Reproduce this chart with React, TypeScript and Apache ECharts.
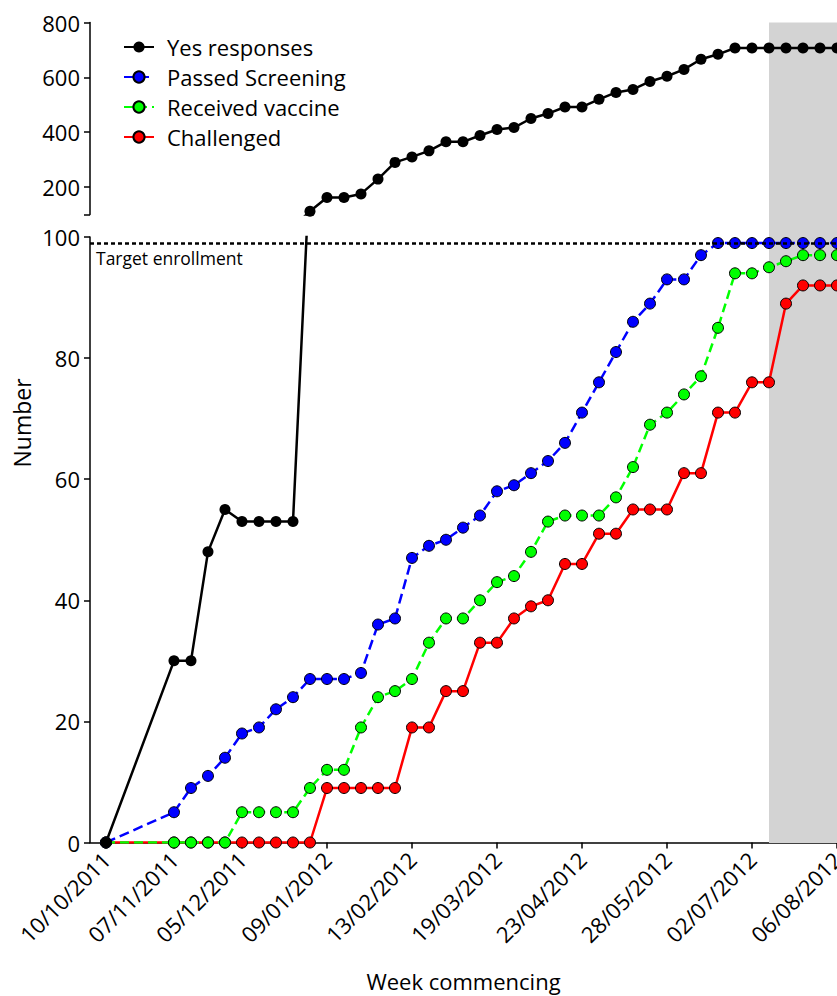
import React, { useEffect, useRef } from 'react';
import * as echarts from 'echarts';

// Week index (weeks after 10/10/2011) for every plotted point
const weekIndex = [0, 4, 5, 6, 7, 8, 9, 10, 11, 12, 13, 14, 15, 16, 17, 18, 19, 20, 21, 22, 23, 24, 25, 26, 27, 28, 29, 30, 31, 32, 33, 34, 35, 36, 37, 38, 39, 40, 41, 42, 43];

const yesResponses = [0, 30, 30, 48, 55, 53, 53, 53, 53, 112, 162, 162, 175, 229, 290, 310, 332, 365, 365, 388, 410, 417, 450, 468, 492, 492, 520, 545, 556, 585, 604, 629, 666, 684, 707, 707, 707, 707, 707, 707, 707];
const passedScreening = [0, 5, 9, 11, 14, 18, 19, 22, 24, 27, 27, 27, 28, 36, 37, 47, 49, 50, 52, 54, 58, 59, 61, 63, 66, 71, 76, 81, 86, 89, 93, 93, 97, 99, 99, 99, 99, 99, 99, 99, 99];
const receivedVaccine = [0, 0, 0, 0, 0, 5, 5, 5, 5, 9, 12, 12, 19, 24, 25, 27, 33, 37, 37, 40, 43, 44, 48, 53, 54, 54, 54, 57, 62, 69, 71, 74, 77, 85, 94, 94, 95, 96, 97, 97, 97];
const challenged = [0, 0, 0, 0, 0, 0, 0, 0, 0, 0, 9, 9, 9, 9, 9, 19, 19, 25, 25, 33, 33, 37, 39, 40, 46, 46, 51, 51, 55, 55, 55, 61, 61, 71, 71, 76, 76, 89, 92, 92, 92];

const tickWeeks = [0, 4, 8, 13, 18, 23, 28, 33, 38, 43];
const tickLabels = ['10/10/2011', '07/11/2011', '05/12/2011', '09/01/2012', '13/02/2012', '19/03/2012', '23/04/2012', '28/05/2012', '02/07/2012', '06/08/2012'];

const topTicks = [100, 200, 400, 600, 800];
const topLabels = [200, 400, 600, 800];
const targetEnrollment = 99;
const vaccineExpiryWeek = 39;

const xMin = -0.94;
const xMax = 43;

const FONT = '"Open Sans", "DejaVu Sans", sans-serif';

const pairs = (vals: number[]) => weekIndex.map((w, k) => [w, vals[k]]);

export default function App() {
  const ref = useRef<HTMLDivElement>(null);

  useEffect(() => {
    const chart = echarts.init(ref.current as HTMLDivElement, null, { renderer: 'svg' });

    const axisLineStyle = { color: '#000', width: 1.5 };
    const labelStyle = { color: '#000', fontSize: 22, fontFamily: FONT };

    const coloredSymbol = (color: string) => ({ color, borderColor: '#000', borderWidth: 1 });

    const gridBase = { left: 90, right: 0, containLabel: false, outerBoundsMode: 'none' };

    const option: any = {
      animation: false,
      backgroundColor: '#fff',
      grid: [
        { ...gridBase, top: 22.5, height: 820.5 },
        { ...gridBase, top: 22.5, height: 192 },
        { ...gridBase, top: 237, height: 605.5 },
      ],
      xAxis: [
        { type: 'value', gridIndex: 0, min: xMin, max: xMax, show: false },
        { type: 'value', gridIndex: 1, min: xMin, max: xMax, show: false },
        {
          type: 'value',
          gridIndex: 2,
          min: xMin,
          max: xMax,
          axisLine: { show: true, onZero: false, lineStyle: axisLineStyle },
          axisTick: { show: true, customValues: tickWeeks, length: 6, lineStyle: axisLineStyle },
          axisLabel: {
            ...labelStyle,
            customValues: tickWeeks,
            rotate: 45,
            margin: 13,
            formatter: (v: number) => tickLabels[tickWeeks.indexOf(v)] ?? '',
          },
          splitLine: { show: false },
          name: 'Week commencing',
          nameLocation: 'middle',
          nameGap: 127,
          nameTextStyle: { color: '#000', fontSize: 22, fontFamily: FONT },
        },
      ],
      yAxis: [
        { type: 'value', gridIndex: 0, min: 0, max: 1, show: false },
        {
          type: 'value',
          gridIndex: 1,
          min: 100,
          max: 800,
          axisLine: { show: true, onZero: false, lineStyle: axisLineStyle },
          axisTick: { show: true, customValues: topTicks, length: 6, lineStyle: axisLineStyle },
          axisLabel: { ...labelStyle, customValues: topLabels, margin: 10 },
          splitLine: { show: false },
        },
        {
          type: 'value',
          gridIndex: 2,
          min: 0,
          max: 100,
          interval: 20,
          axisLine: { show: true, onZero: false, lineStyle: axisLineStyle },
          axisTick: { show: true, length: 6, lineStyle: axisLineStyle },
          axisLabel: { ...labelStyle, margin: 10 },
          splitLine: { show: false },
        },
      ],
      legend: {
        orient: 'vertical',
        left: 123,
        top: 36,
        padding: 0,
        itemWidth: 30,
        itemHeight: 14,
        itemGap: 8,
        selectedMode: false,
        data: ['Yes responses', 'Passed Screening', 'Received vaccine', 'Challenged'],
        textStyle: { color: '#000', fontSize: 22, fontFamily: FONT, padding: [0, 0, 0, 8] },
      },
      series: [
        {
          type: 'line',
          xAxisIndex: 0,
          yAxisIndex: 0,
          data: [],
          silent: true,
          z: -1,
          markArea: {
            silent: true,
            itemStyle: { color: '#d3d3d3' },
            data: [[{ xAxis: vaccineExpiryWeek }, { xAxis: xMax }]],
          },
        },
        {
          name: 'Yes responses',
          type: 'line',
          xAxisIndex: 1,
          yAxisIndex: 1,
          data: pairs(yesResponses),
          symbol: 'circle',
          symbolSize: 11,
          clip: true,
          lineStyle: { color: '#000', width: 2.5 },
          itemStyle: { color: '#000' },
        },
        {
          name: 'Challenged',
          type: 'line',
          xAxisIndex: 2,
          yAxisIndex: 2,
          data: pairs(challenged),
          symbol: 'circle',
          symbolSize: 11,
          clip: true,
          lineStyle: { color: '#ff0000', width: 2.5 },
          itemStyle: coloredSymbol('#ff0000'),
          markLine: {
            silent: true,
            symbol: 'none',
            lineStyle: { color: '#000', width: 2.5, type: [4, 3] },
            label: {
              show: true,
              position: 'insideStartBottom',
              formatter: 'Target enrollment',
              color: '#000',
              fontSize: 17.5,
              fontFamily: FONT,
              distance: 6,
            },
            data: [{ yAxis: targetEnrollment }],
          },
        },
        {
          name: 'Received vaccine',
          type: 'line',
          xAxisIndex: 2,
          yAxisIndex: 2,
          data: pairs(receivedVaccine),
          symbol: 'circle',
          symbolSize: 11,
          clip: true,
          lineStyle: { color: '#00ff00', width: 2.5, type: [9, 5] },
          itemStyle: coloredSymbol('#00ff00'),
        },
        {
          name: 'Passed Screening',
          type: 'line',
          xAxisIndex: 2,
          yAxisIndex: 2,
          data: pairs(passedScreening),
          symbol: 'circle',
          symbolSize: 11,
          clip: true,
          lineStyle: { color: '#0000ff', width: 2.5, type: [10, 5] },
          itemStyle: coloredSymbol('#0000ff'),
        },
        {
          name: 'Yes responses',
          type: 'line',
          xAxisIndex: 2,
          yAxisIndex: 2,
          data: pairs(yesResponses),
          symbol: 'circle',
          symbolSize: 11,
          clip: true,
          lineStyle: { color: '#000', width: 2.5 },
          itemStyle: { color: '#000' },
        },
      ],
      graphic: [
        {
          type: 'text',
          x: 22,
          y: 423,
          rotation: Math.PI / 2,
          style: { text: 'Number', fill: '#000', fontSize: 23, fontFamily: FONT, align: 'center', verticalAlign: 'middle' },
        },
        {
          type: 'text',
          x: 786,
          y: 835,
          rotation: Math.PI / 2,
          style: { text: 'Vaccine expiry', fill: '#000', fontSize: 18, fontFamily: FONT, align: 'left', verticalAlign: 'middle' },
        },
      ],
    };

    chart.setOption(option);
    return () => chart.dispose();
  }, []);

  return <div ref={ref} style={{ position: 'absolute', left: 0, top: 0, width: 837, height: 996 }} />;
}
